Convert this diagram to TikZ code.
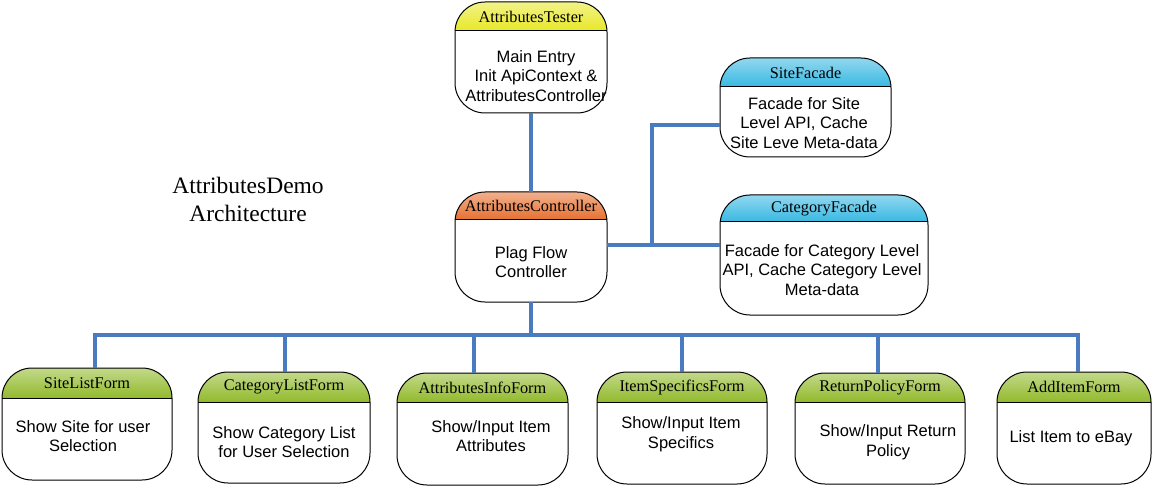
\documentclass[tikz,border=0pt]{standalone}
\usepackage{fontspec}
\setmainfont{Liberation Serif}
\newfontfamily\bodyfont{Liberation Sans}
\usetikzlibrary{fit}
\definecolor{connblue}{RGB}{74,122,192}
\definecolor{hdyellow}{RGB}{232,232,40}
\definecolor{hdorange}{RGB}{230,112,48}
\definecolor{hdcyan}{RGB}{56,184,226}
\definecolor{hdgreen}{RGB}{146,186,44}
\tikzset{
  boxframe/.style={draw=black, line width=1pt, rounded corners=30pt, inner sep=0pt, outer sep=0pt},
  titletext/.style={font=\fontsize{16.3}{18}\selectfont, inner sep=0pt},
  bodytext/.style={font=\bodyfont\fontsize{16.5}{19.5}\selectfont, align=center, inner sep=0pt},
  headtext/.style={font=\fontsize{23.5}{28}\selectfont, align=center, inner sep=0pt},
  conn/.style={draw=connblue, line width=3.5pt},
}
\newcommand\umlbox[8]{%
  \begin{scope}
    \clip[rounded corners=30pt] (#2,#3) rectangle (#4,#5);
    \shade[top color=#7!55!white, bottom color=#7] (#2,#3) rectangle (#4,#6);
  \end{scope}
  \draw[line width=1pt] (#2,#6) -- (#4,#6);
  \coordinate (#1-nw) at (#2,#3);
  \coordinate (#1-se) at (#4,#5);
  \node[boxframe, fit=(#1-nw)(#1-se)] (#1) {};
  \node[titletext] (#1-t) at ({(#2+#4)/2},{(#3+#6)/2}) {#8};
}
\begin{document}
\begin{tikzpicture}[x=1pt, y=-1pt]
\useasboundingbox (0,0) rectangle (1155,486);

% boxes
\umlbox{tester}{455}{2}{607}{113}{31}{hdyellow}{AttributesTester}
\umlbox{ctrl}{455}{192}{607}{302}{220}{hdorange}{AttributesController}
\umlbox{sitef}{720}{58}{891}{157}{87}{hdcyan}{SiteFacade}
\umlbox{catf}{720}{195}{928}{315}{222}{hdcyan}{CategoryFacade}
\umlbox{f1}{2}{368}{172}{480}{398}{hdgreen}{SiteListForm}
\umlbox{f2}{198}{372}{370}{483}{402}{hdgreen}{CategoryListForm}
\umlbox{f3}{397}{373}{568}{485}{402}{hdgreen}{AttributesInfoForm}
\umlbox{f4}{597}{372}{767}{484}{402}{hdgreen}{ItemSpecificsForm}
\umlbox{f5}{795}{373}{965}{484}{402}{hdgreen}{ReturnPolicyForm}
\umlbox{f6}{997}{372}{1151}{484}{402}{hdgreen}{AddItemForm}

% body texts
\node[bodytext] (tester-b) at (536,76) {Main Entry\\Init ApiContext \&\\AttributesController};
\node[bodytext] (ctrl-b) at (531,262) {Plag Flow\\Controller};
\node[bodytext] (sitef-b) at (804,123) {Facade for Site\\Level API, Cache\\Site Leve Meta-data};
\node[bodytext] (catf-b) at (822,270) {Facade for Category Level\\API, Cache Category Level\\Meta-data};
\node[bodytext] (f1-b) at (83,436) {Show Site for user\\Selection};
\node[bodytext] (f2-b) at (284,442) {Show Category List\\for User Selection};
\node[bodytext] (f3-b) at (491,436) {Show/Input Item\\Attributes};
\node[bodytext] (f4-b) at (681,434) {Show/Input Item\\Specifics};
\node[bodytext] (f5-b) at (888,442) {Show/Input Return\\Policy};
\node[bodytext] (f6-b) at (1071,438) {List Item to eBay};

% title
\node[headtext] (title) at (248,199) {AttributesDemo\\Architecture};

% connectors
\coordinate (j1) at (652,245);
\coordinate (j2) at (652,125);
\coordinate (bus) at (531,335);
\coordinate (d1) at (95,335);
\coordinate (d2) at (285,335);
\coordinate (d3) at (474,335);
\coordinate (d4) at (682,335);
\coordinate (d5) at (878,335);
\coordinate (d6) at (1078,335);

\draw[conn] (tester.south) -- (ctrl.north);
\draw[conn] (j1 -| ctrl.east) -- (j1 -| catf.west);
\draw[conn] (j1) -- (j2) -- (j2 -| sitef.west);
\draw[conn] (ctrl.south) -- (bus);
\draw[conn] (d1 |- f1.north) -- (d1) -- (d6) -- (d6 |- f6.north);
\draw[conn] (d2) -- (d2 |- f2.north);
\draw[conn] (d3) -- (d3 |- f3.north);
\draw[conn] (d4) -- (d4 |- f4.north);
\draw[conn] (d5) -- (d5 |- f5.north);
\end{tikzpicture}
\end{document}
